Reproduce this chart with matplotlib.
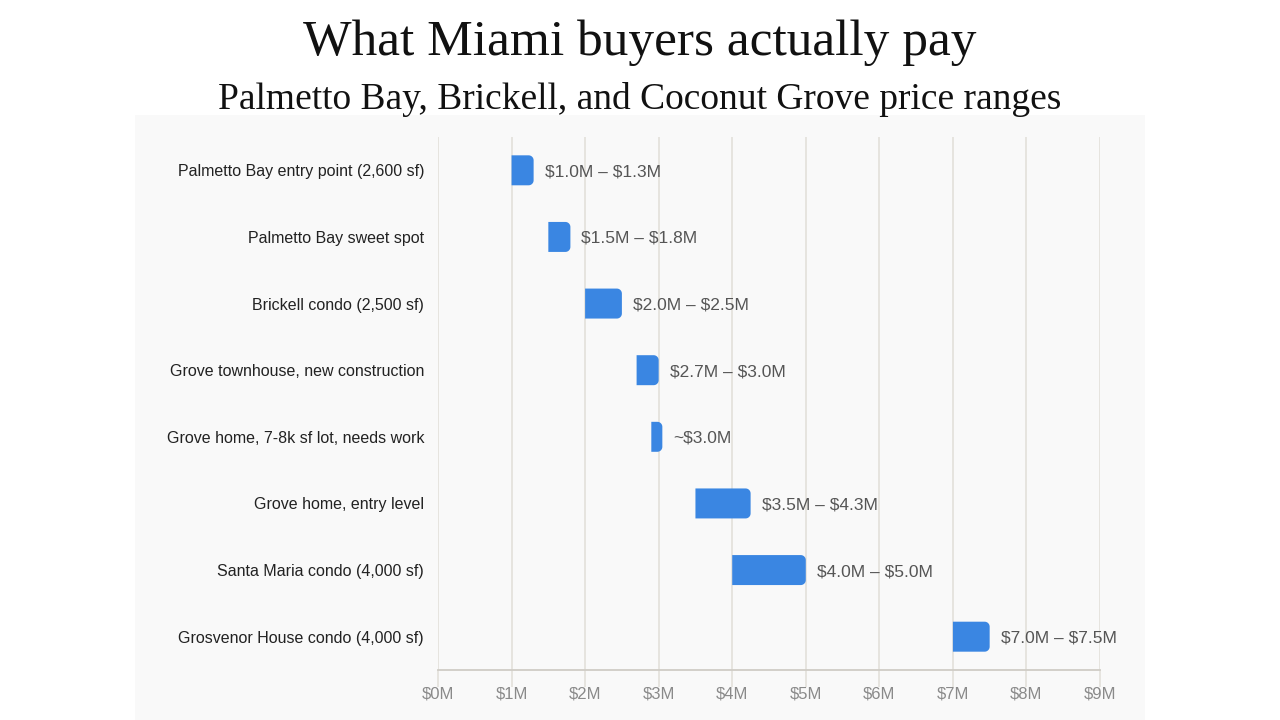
import numpy as np
import matplotlib.pyplot as plt
from matplotlib.patches import PathPatch
from matplotlib.path import Path

plt.rcParams["text.parse_math"] = False

categories = [
    "Palmetto Bay entry point (2,600 sf)",
    "Palmetto Bay sweet spot",
    "Brickell condo (2,500 sf)",
    "Grove townhouse, new construction",
    "Grove home, 7-8k sf lot, needs work",
    "Grove home, entry level",
    "Santa Maria condo (4,000 sf)",
    "Grosvenor House condo (4,000 sf)",
]
low = [1.0, 1.5, 2.0, 2.7, 2.9, 3.5, 4.0, 7.0]
high = [1.3, 1.8, 2.5, 3.0, 3.05, 4.25, 5.0, 7.5]
range_labels = [
    "$1.0M – $1.3M",
    "$1.5M – $1.8M",
    "$2.0M – $2.5M",
    "$2.7M – $3.0M",
    "~$3.0M",
    "$3.5M – $4.3M",
    "$4.0M – $5.0M",
    "$7.0M – $7.5M",
]
x_ticks = list(range(0, 10))

BAR = "#3a86e2"
GRID = "#e5e2dd"


def right_rounded_bar(x0, x1, y, h, rx, ry):
    # bar with square left corners and rounded right corners
    t = np.linspace(0, np.pi / 2, 10)
    top, bot = y - h / 2, y + h / 2
    pts = [(x0, top), (x1 - rx, top)]
    pts += [(x1 - rx + rx * np.sin(a), top + ry - ry * np.cos(a)) for a in t]
    pts += [(x1, bot - ry)]
    pts += [(x1 - rx + rx * np.cos(a), bot - ry + ry * np.sin(a)) for a in t]
    pts += [(x0, bot), (x0, top)]
    return Path(pts, closed=True)


fig = plt.figure(figsize=(12.8, 7.2), dpi=100)
fig.patch.set_facecolor("white")

# light panel behind the chart
bg = fig.add_axes([135 / 1280, 0, 1010 / 1280, 605 / 720], zorder=-5)
bg.set_facecolor("#f9f9f9")
bg.set_xticks([])
bg.set_yticks([])
for s in bg.spines.values():
    s.set_visible(False)

fig.text(0.5, 0.94, "What Miami buyers actually pay", ha="center", va="center",
         fontsize=37, family="Liberation Serif", color="#111111")
fig.text(0.5, 0.862, "Palmetto Bay, Brickell, and Coconut Grove price ranges",
         ha="center", va="center", fontsize=27, family="Liberation Serif", color="#111111")

ax = fig.add_axes([438 / 1280, 1 - 670 / 720, 662 / 1280, 533 / 720])
ax.set_facecolor("none")
ax.set_xlim(0, 9)
ax.set_ylim(7.5, -0.5)

for x in x_ticks:
    ax.axvline(x, color=GRID, lw=1.3, zorder=1)

h = 0.45
rx = 5 * 9 / 662
ry = 5 * 8 / 533
for i, (a, b) in enumerate(zip(low, high)):
    ax.add_patch(PathPatch(right_rounded_bar(a, b, i, h, min(rx, (b - a) / 2), ry),
                           facecolor=BAR, edgecolor="none", zorder=3))
    ax.text(b + 0.15, i, range_labels[i], va="center_baseline", ha="left",
            fontsize=12.5, color="#555555", family="Liberation Sans", zorder=4)

ax.set_yticks(range(len(categories)))
ax.set_yticklabels(categories, fontsize=11.5, color="#222222", family="Liberation Sans")
ax.tick_params(axis="y", length=0, pad=10)

ax.set_xticks(x_ticks)
ax.set_xticklabels([f"${x}M" for x in x_ticks], fontsize=12, color="#8a8a8a",
                   family="Liberation Sans")
ax.tick_params(axis="x", length=12, color=GRID, width=1.3, pad=0)

for s in ["top", "right", "left"]:
    ax.spines[s].set_visible(False)
ax.spines["bottom"].set_color("#cfccc6")
ax.spines["bottom"].set_linewidth(1.3)

fig.savefig("out.png", dpi=100)
